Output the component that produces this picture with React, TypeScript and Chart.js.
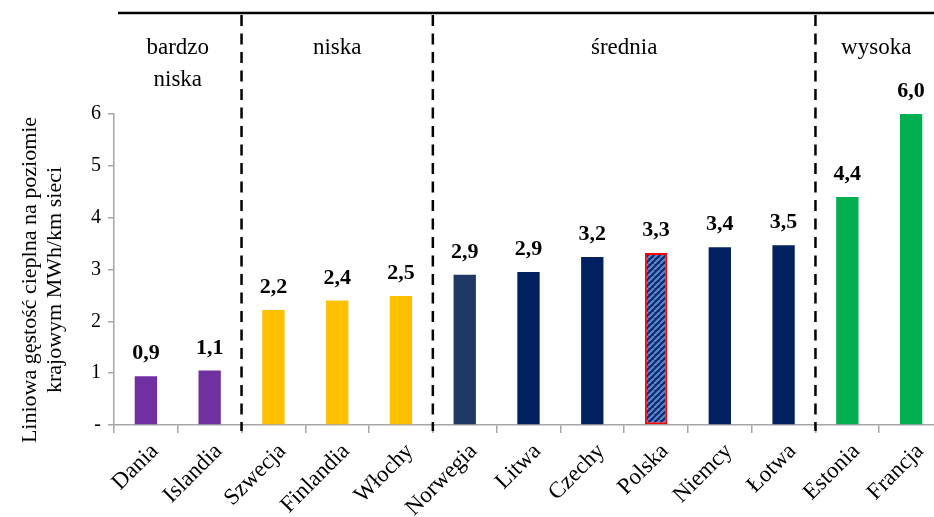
import React, { useEffect, useRef } from "react";
import { Chart, registerables } from "chart.js";

Chart.register(...registerables);

const categories = ["Dania", "Islandia", "Szwecja", "Finlandia", "Włochy", "Norwegia", "Litwa", "Czechy", "Polska", "Niemcy", "Łotwa", "Estonia", "Francja"];
const values = [0.94, 1.05, 2.22, 2.4, 2.49, 2.9, 2.95, 3.24, 3.32, 3.43, 3.47, 4.4, 6.0];
const valueLabels = ["0,9", "1,1", "2,2", "2,4", "2,5", "2,9", "2,9", "3,2", "3,3", "3,4", "3,5", "4,4", "6,0"];
const barColors = ["#7030A0", "#7030A0", "#FFC000", "#FFC000", "#FFC000", "#1F3864", "#002060", "#002060", "PATTERN", "#002060", "#002060", "#00B050", "#00B050"];
const yTickLabels = ["-", "1", "2", "3", "4", "5", "6"];
const groups = [
  { lines: ["bardzo", "niska"], from: 0, to: 1 },
  { lines: ["niska"], from: 2, to: 4 },
  { lines: ["średnia"], from: 5, to: 10 },
  { lines: ["wysoka"], from: 11, to: 12 },
];
const separatorsAfter = [1, 4, 10];
const yTitle = ["Liniowa gęstość cieplna na poziomie", "krajowym MWh/km sieci"];

const FONT = "'Liberation Serif', 'Times New Roman', serif";

function makePattern(): CanvasPattern | string {
  const c = document.createElement("canvas");
  c.width = 6;
  c.height = 6;
  const g = c.getContext("2d");
  if (!g) return "#002060";
  g.fillStyle = "#102a6a";
  g.fillRect(0, 0, 6, 6);
  g.strokeStyle = "#5B8BD6";
  g.lineWidth = 2;
  for (const off of [-6, 0, 6]) {
    g.beginPath();
    g.moveTo(off, 6);
    g.lineTo(off + 6, 0);
    g.stroke();
  }
  const p = g.createPattern(c, "repeat");
  return p || "#002060";
}

export default function App() {
  const ref = useRef<HTMLCanvasElement | null>(null);
  useEffect(() => {
    const canvas = ref.current;
    if (!canvas) return;
    const pattern = makePattern();
    const bg = barColors.map((c) => (c === "PATTERN" ? pattern : c));
    const borderColors = barColors.map((c) => (c === "PATTERN" ? "#FF0000" : c));
    const borderWidths = barColors.map((c) => (c === "PATTERN" ? 2 : 0));

    const overlay = {
      id: "overlay",
      afterDatasetsDraw(chart: any) {
        const ctx = chart.ctx;
        const xs = chart.scales.x;
        const area = chart.chartArea;
        const meta = chart.getDatasetMeta(0);
        const step = xs.getPixelForValue(1) - xs.getPixelForValue(0);
        ctx.save();
        // value labels
        ctx.fillStyle = "#000";
        ctx.font = `bold 22px ${FONT}`;
        ctx.textAlign = "center";
        ctx.textBaseline = "alphabetic";
        meta.data.forEach((el: any, i: number) => {
          ctx.fillText(valueLabels[i], el.x, el.y - 17);
        });
        // top line
        const topY = 13;
        ctx.strokeStyle = "#000";
        ctx.lineWidth = 2.5;
        ctx.beginPath();
        ctx.moveTo(118, topY);
        ctx.lineTo(chart.width, topY);
        ctx.stroke();
        // separators
        ctx.lineWidth = 2.5;
        ctx.setLineDash([11, 7.5]);
        separatorsAfter.forEach((i) => {
          const x = (xs.getPixelForValue(i) + xs.getPixelForValue(i + 1)) / 2;
          ctx.beginPath();
          ctx.moveTo(x, topY + 2);
          ctx.lineTo(x, area.bottom + 6);
          ctx.stroke();
        });
        ctx.setLineDash([]);
        // group labels
        ctx.font = `23px ${FONT}`;
        ctx.textBaseline = "middle";
        groups.forEach((g) => {
          const x0 = xs.getPixelForValue(g.from) - step / 2;
          const x1 = xs.getPixelForValue(g.to) + step / 2;
          let cx = (x0 + x1) / 2;
          if (g.to === categories.length - 1) cx -= 3;
          g.lines.forEach((t, k) => {
            ctx.fillText(t, cx, 48 + k * 32);
          });
        });
        // y axis title
        ctx.font = `22px ${FONT}`;
        ctx.textAlign = "center";
        ctx.textBaseline = "middle";
        const titleCenterY = 280;
        yTitle.forEach((t, k) => {
          ctx.save();
          ctx.translate(30 + k * 25, titleCenterY);
          ctx.rotate(-Math.PI / 2);
          ctx.fillText(t, 0, 0);
          ctx.restore();
        });
        ctx.restore();
      },
    };

    const chart = new Chart(canvas, {
      type: "bar",
      data: {
        labels: categories,
        datasets: [
          {
            data: values,
            backgroundColor: bg as any,
            borderColor: borderColors,
            borderWidth: borderWidths,
            borderSkipped: false,
            barPercentage: 0.35,
            categoryPercentage: 1,
          },
        ],
      },
      options: {
        responsive: false,
        animation: false,
        layout: { padding: { top: 114, right: 7, left: 18, bottom: 0 } },
        plugins: { legend: { display: false }, tooltip: { enabled: false } },
        scales: {
          x: {
            offset: true,
            grid: { offset: true, drawOnChartArea: false, drawTicks: true, tickLength: 8, color: "#A6A6A6", lineWidth: 1.5 },
            border: { color: "#A6A6A6", width: 1.5 },
            ticks: {
              autoSkip: false,
              minRotation: 45,
              maxRotation: 45,
              padding: 5,
              labelOffset: 9,
              color: "#000",
              font: { family: FONT, size: 23 },
            },
            afterFit(scale: any) {
              scale.height = 92;
            },
          },
          y: {
            min: 0,
            max: 6,
            ticks: {
              stepSize: 1,
              padding: 7,
              color: "#000",
              font: { family: FONT, size: 20 },
              callback: (v: any) => yTickLabels[Math.round(Number(v))] ?? "",
            },
            grid: { drawOnChartArea: false, drawTicks: true, tickLength: 6, color: "#A6A6A6", lineWidth: 1.5 },
            border: { color: "#A6A6A6", width: 1.5 },
            afterFit(scale: any) {
              scale.width = 96;
            },
          },
        },
      },
      plugins: [overlay],
    });
    return () => chart.destroy();
  }, []);

  return (
    <div style={{ position: "fixed", left: 0, top: 0, width: 950, height: 517, background: "#fff" }}>
      <canvas ref={ref} width={950} height={517} style={{ width: 950, height: 517 }} />
    </div>
  );
}
